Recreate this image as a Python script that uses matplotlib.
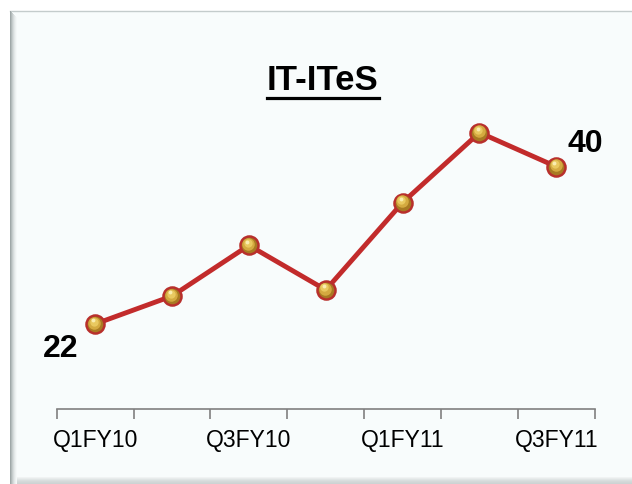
import numpy as np
import matplotlib
matplotlib.use("Agg")
import matplotlib.pyplot as plt
from matplotlib.patches import Rectangle
from matplotlib.lines import Line2D
import matplotlib.transforms as mtransforms

# ---- data ----
categories = ["Q1FY10", "Q2FY10", "Q3FY10", "Q4FY10", "Q1FY11", "Q2FY11", "Q3FY11"]
values = [22, 25.2, 31.0, 25.9, 35.9, 43.9, 40]
shown_labels = ["Q1FY10", "", "Q3FY10", "", "Q1FY11", "", "Q3FY11"]
title = "IT-ITeS"

W, H = 632, 485
fig = plt.figure(figsize=(W / 100, H / 100), dpi=100)
fig.patch.set_facecolor("white")
plt.rcParams["font.family"] = ["Liberation Sans", "DejaVu Sans"]

def fx(px):
    return px / W

def fy(py):
    return (H - py) / H

# panel background
fig.patches.append(Rectangle((fx(10), fy(485)), fx(640) - fx(10), fy(12) - fy(485),
                             transform=fig.transFigure, facecolor="#F8FCFC",
                             edgecolor="none", zorder=-3))
# top border
fig.lines.append(Line2D([fx(10), fx(632)], [fy(12), fy(12)], transform=fig.transFigure,
                        color="#C4CCCC", lw=1.0, zorder=-2))
# left shadow gradient
shades = ["#9FA8A8", "#B3BBBB", "#C6CDCD", "#D6DCDC", "#E3E8E8", "#EDF1F1", "#F4F8F8"]
for i, c in enumerate(shades):
    fig.patches.append(Rectangle((fx(10 + i), fy(485)), 1 / W, fy(12 + i) - fy(485),
                                 transform=fig.transFigure, facecolor=c,
                                 edgecolor="none", zorder=-2))
# bottom shadow gradient
bshades = ["#F0F3F3", "#E8ECEC", "#E0E5E5", "#D9DEDE", "#D4D9D9", "#D0D6D6", "#CDD3D3"]
for i, c in enumerate(bshades):
    fig.patches.append(Rectangle((fx(10 + 7), fy(479 + i)), fx(640) - fx(17), 1 / H,
                                 transform=fig.transFigure, facecolor=c,
                                 edgecolor="none", zorder=-2))

# axes
left, right = 56.7, 594.8
top_px, bot_px = 100, 410
ax = fig.add_axes([fx(left), fy(bot_px), (right - left) / W, (bot_px - top_px) / H])
ax.set_facecolor("none")
ax.set_zorder(1)
ppu = 8.74
ymin = 22 - (bot_px - 325) / ppu
ymax = ymin + (bot_px - top_px) / ppu
ax.set_ylim(ymin, ymax)
ax.set_xlim(-0.5, len(categories) - 0.5)

x = np.arange(len(categories))
ax.plot(x, values, color="#C22B2B", lw=3.5, zorder=3, solid_capstyle="round", clip_on=False)
ax.plot(x, values, linestyle="none", marker="o", ms=13, mfc="#A87A22",
        mec="#B8302C", mew=1.8, zorder=4, clip_on=False)
hl = mtransforms.offset_copy(ax.transData, fig=fig, x=-0.5, y=1.0, units="points")
ax.plot(x, values, linestyle="none", marker="o", ms=9, mfc="#D4AA40", mec="none",
        zorder=5, transform=hl, clip_on=False)
hl1 = mtransforms.offset_copy(ax.transData, fig=fig, x=-0.9, y=1.8, units="points")
ax.plot(x, values, linestyle="none", marker="o", ms=6, mfc="#E9C960", mec="none",
        zorder=5, transform=hl1, clip_on=False)
hl2 = mtransforms.offset_copy(ax.transData, fig=fig, x=-1.4, y=2.7, units="points")
ax.plot(x, values, linestyle="none", marker="o", ms=2.8, mfc="#FAEDB0", mec="none",
        zorder=6, transform=hl2, clip_on=False)

# spines / ticks
for s in ["top", "right", "left"]:
    ax.spines[s].set_visible(False)
ax.spines["bottom"].set_color("#808080")
ax.spines["bottom"].set_linewidth(1.2)
ax.set_yticks([])
ax.set_xticks(x)
ax.set_xticklabels(shown_labels, fontsize=16.5)
ax.tick_params(axis="x", which="major", length=0, pad=14, colors="#000000")
ax.set_xticks(np.arange(-0.5, len(categories), 1.0), minor=True)
ax.tick_params(axis="x", which="minor", length=7, width=1.2, color="#808080", direction="out")

# data labels
ax.annotate(str(values[0]), (x[0], values[0]), xytext=(-25.2, -17.5), textcoords="offset points",
            ha="center", va="center", fontsize=23, fontweight="bold")
ax.annotate(str(values[-1]), (x[-1], values[-1]), xytext=(20.9, 17.1), textcoords="offset points",
            ha="center", va="center", fontsize=23, fontweight="bold")

# title with underline
t = fig.text(fx(323), fy(80), title, ha="center", va="center", fontsize=25, fontweight="bold")
fig.canvas.draw()
bb = t.get_window_extent()
fig.lines.append(Line2D([bb.x0 / W, bb.x1 / W], [fy(98.5), fy(98.5)], transform=fig.transFigure,
                        color="black", lw=2.3, zorder=5))

fig.savefig("out.png", dpi=100)
